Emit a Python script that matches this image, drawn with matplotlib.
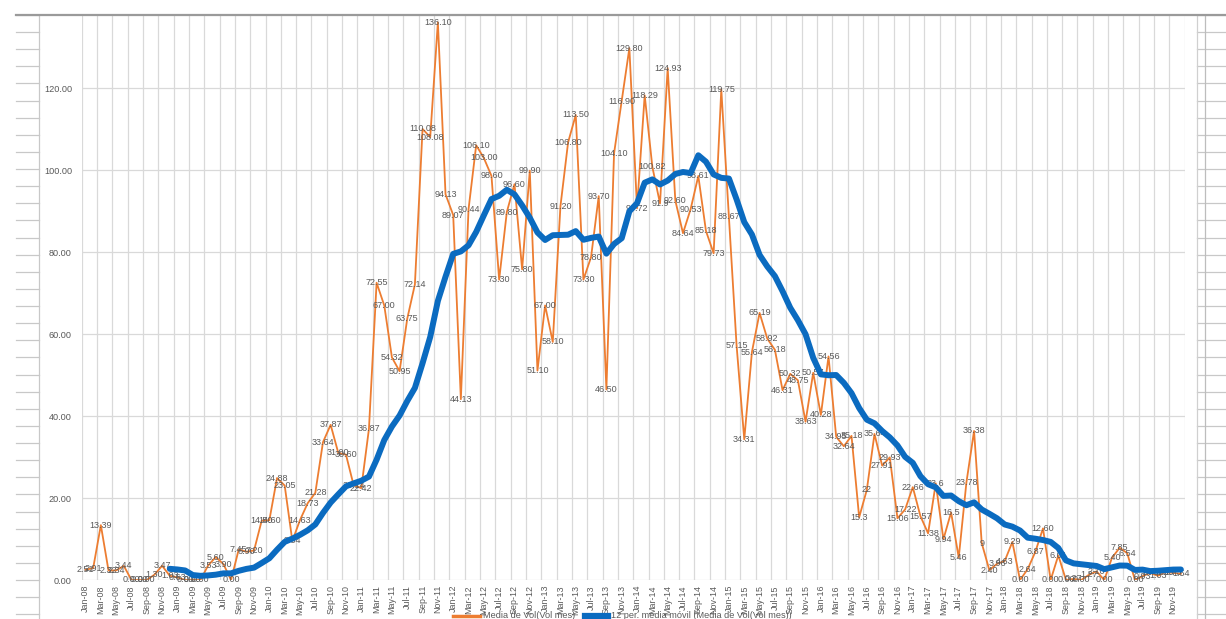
import matplotlib
matplotlib.use("Agg")
import matplotlib.pyplot as plt
from matplotlib.lines import Line2D
import numpy as np
import pandas as pd

# ---------------- data ----------------
months = pd.date_range("2008-01-01", periods=144, freq="MS").strftime("%b-%y").tolist()

vol_2008 = [2.51, 2.91, 13.39, 2.32, 2.34, 3.44, 0.00, 0.00, 0.00, 1.30, 3.47, 1.03]
vol_2009 = [0.63, 0.00, 0.00, 0.00, 3.53, 5.60, 3.90, 0.00, 7.45, 6.90, 7.20, 14.50]
vol_2010 = [14.60, 24.88, 23.05, 9.54, 14.63, 18.73, 21.28, 33.64, 37.87, 31.00, 30.60, 23.14]
vol_2011 = [22.42, 36.87, 72.55, 67.00, 54.32, 50.95, 63.75, 72.14, 110.08, 108.08, 136.10, 94.13]
vol_2012 = [89.07, 44.13, 90.44, 106.10, 103.00, 98.60, 73.30, 89.80, 96.60, 75.80, 99.90, 51.10]
vol_2013 = [67.00, 58.10, 91.20, 106.80, 113.50, 73.30, 78.80, 93.70, 46.50, 104.10, 116.90, 129.80]
vol_2014 = [90.72, 118.29, 100.82, 91.90, 124.93, 92.60, 84.64, 90.53, 98.61, 85.18, 79.73, 119.75]
vol_2015 = [88.67, 57.15, 34.31, 55.64, 65.19, 58.92, 56.18, 46.31, 50.32, 48.75, 38.63, 50.57]
vol_2016 = [40.28, 54.56, 34.95, 32.64, 35.18, 15.30, 22.00, 35.64, 27.91, 29.93, 15.06, 17.22]
vol_2017 = [22.66, 15.57, 11.38, 23.60, 9.94, 16.50, 5.46, 23.78, 36.38, 9.00, 2.40, 3.96]
vol_2018 = [4.63, 9.29, 0.00, 2.64, 6.87, 12.60, 0.00, 6.01, 0.00, 0.27, 0.00, 1.27]
vol_2019 = [2.10, 0.00, 5.40, 7.85, 6.54, 0.00, 0.93, 1.73, 1.03, 1.93, 1.73, 1.54]

vol = (vol_2008 + vol_2009 + vol_2010 + vol_2011 + vol_2012 + vol_2013 +
       vol_2014 + vol_2015 + vol_2016 + vol_2017 + vol_2018 + vol_2019)

# labels shown without two decimals in the original
plain_labels = {"Apr-14": "91.9", "Jun-16": "15.3", "Jul-16": "22",
                "Apr-17": "23.6", "Jun-17": "16.5", "Oct-17": "9"}

y_ticks = [0, 20, 40, 60, 80, 100, 120]
series_name = "Media de Vol(Vol mes)"
trend_name = "12 per. media móvil (Media de Vol(Vol mes))"

# ---------------- figure ----------------
W, H = 1226, 619
fig = plt.figure(figsize=(W / 100, H / 100), dpi=100)
fig.patch.set_facecolor("white")

def fx(px):
    return px / W

def fy(py):
    return 1 - py / H

FONT = "Liberation Sans"
TXT = "#595959"
GRID = "#d9d9d9"

# spreadsheet cell lines visible around the chart
row_step = 565 / 33
for k in range(0, 37):
    yy = 15 + row_step * k
    if yy > H:
        break
    fig.add_artist(Line2D([fx(16), fx(39)], [fy(yy), fy(yy)], color="#c8c8c8", lw=0.9))
    fig.add_artist(Line2D([fx(1197), fx(1226)], [fy(yy), fy(yy)], color="#c8c8c8", lw=0.9))
fig.add_artist(Line2D([fx(39), fx(39)], [fy(15), fy(H)], color="#c8c8c8", lw=0.9))
fig.add_artist(Line2D([fx(1197), fx(1197)], [fy(15), fy(H)], color="#d0d0d0", lw=0.9))
fig.add_artist(Line2D([fx(1205), fx(1205)], [fy(15), fy(H)], color="#bdbdbd", lw=0.9))
fig.add_artist(Line2D([fx(16), fx(1226)], [fy(15), fy(15)], color="#9a9a9a", lw=1.6))

ax_left, ax_right, ax_top, ax_bottom = 81.7, 1184.7, 15, 580
ax = fig.add_axes([fx(ax_left), fy(ax_bottom), fx(ax_right - ax_left),
                   (ax_bottom - ax_top) / H])
ax.set_facecolor("white")

x = np.arange(len(vol))
ax.set_xlim(-0.5, len(vol) - 0.5)
ax.set_ylim(0, 565 / 4.0975)

for s in ax.spines.values():
    s.set_visible(False)

# gridlines
for yt in y_ticks:
    ax.axhline(yt, color=GRID, lw=0.9, zorder=0)
for gx in np.arange(-0.5, len(vol), 2):
    ax.axvline(gx, color=GRID, lw=0.9, zorder=0)

ax.set_yticks(y_ticks)
ax.set_yticklabels([f"{v:.2f}" for v in y_ticks], fontsize=6.6, color=TXT, family=FONT)
ax.set_xticks(x[::2])
ax.set_xticklabels(months[::2], rotation=90, fontsize=6.4, color=TXT, family=FONT)
ax.tick_params(axis="both", length=0)
ax.tick_params(axis="y", pad=7)
ax.tick_params(axis="x", pad=3.6)

# series
ax.plot(x, vol, color="#ED7D31", lw=1.3, zorder=2, solid_joinstyle="round")
ma = pd.Series(vol).rolling(12).mean()
ax.plot(x, ma, color="#0B6BC0", lw=4.3, zorder=4, solid_capstyle="round",
        solid_joinstyle="round")

for i, v in enumerate(vol):
    lab = plain_labels.get(months[i], f"{v:.2f}")
    ax.text(i, v, lab, ha="center", va="center", fontsize=6.5, color=TXT,
            family=FONT, zorder=3, clip_on=False)

# legend (partly cut at the bottom, as in the original)
ly = 616
fig.add_artist(Line2D([fx(453), fx(480)], [fy(ly), fy(ly)], color="#ED7D31", lw=2.5))
fig.text(fx(483), fy(ly), series_name, fontsize=6.6, color=TXT, family=FONT,
         ha="left", va="center")
fig.add_artist(Line2D([fx(585), fx(608)], [fy(ly), fy(ly)], color="#0B6BC0", lw=4.5))
fig.text(fx(611), fy(ly), trend_name, fontsize=6.6, color=TXT, family=FONT,
         ha="left", va="center")

fig.savefig("out.png", dpi=100, facecolor="white")
